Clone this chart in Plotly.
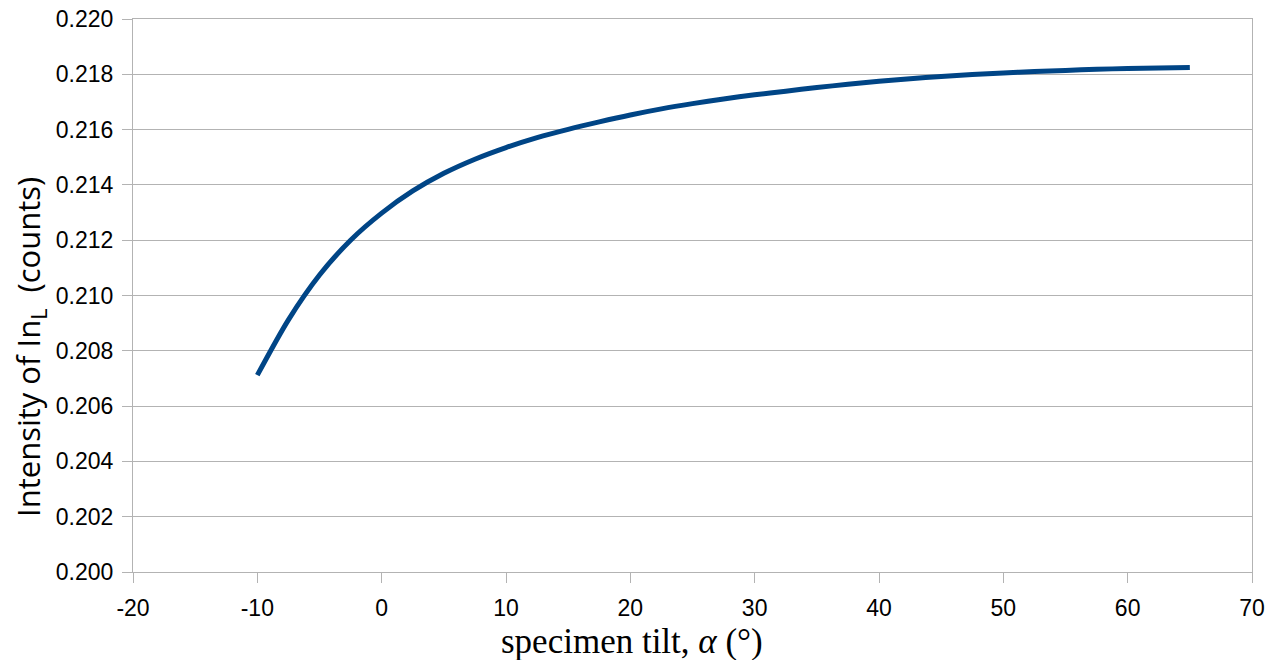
import plotly.graph_objects as go

tilt = [-10, -7.5, -5, -2.5, 0, 2.5, 5, 7.5, 10, 12.5, 15, 17.5, 20, 22.5, 25, 27.5,
        30, 32.5, 35, 37.5, 40, 42.5, 45, 47.5, 50, 52.5, 55, 57.5, 60, 62.5, 65]
intensity = [0.20712, 0.20912, 0.21074, 0.21200, 0.21298, 0.21378, 0.21442, 0.21493,
             0.21535, 0.21571, 0.21601, 0.21628, 0.21653, 0.21675, 0.21694, 0.21711,
             0.21726, 0.21739, 0.21752, 0.21764, 0.21775, 0.21784, 0.21792, 0.21799,
             0.21805, 0.21810, 0.21814, 0.21818, 0.21821, 0.21823, 0.21825]

x_ticks = [-20, -10, 0, 10, 20, 30, 40, 50, 60, 70]
y_ticks = [0.200, 0.202, 0.204, 0.206, 0.208, 0.210, 0.212, 0.214, 0.216, 0.218, 0.220]

x_title = "specimen tilt, <i>α</i> (°)"
y_title = "Intensity of In<sub>L</sub>  (counts)"

fig = go.Figure()
fig.add_trace(go.Scatter(
    x=tilt, y=intensity, mode="lines",
    line=dict(color="#004586", width=5, shape="spline", smoothing=0.8),
    showlegend=False,
))

grid = "#b3b3b3"
tickfont = dict(family="Liberation Sans, Arial", size=23, color="black")
fig.update_layout(
    width=1270, height=652,
    margin=dict(l=125, r=26, t=11, b=88, autoexpand=False),
    paper_bgcolor="white", plot_bgcolor="white",
    font=dict(family="Liberation Sans, Arial", size=23, color="black"),
    xaxis=dict(
        range=[-20, 70], tickvals=x_ticks, ticktext=[str(v) for v in x_ticks],
        showgrid=False, zeroline=False,
        showline=True, linecolor=grid, linewidth=1, mirror=True,
        ticks="outside", ticklen=10, tickcolor=grid,
        tickfont=tickfont, ticklabelstandoff=5, ticklabeloverflow="allow",
        automargin=False,
    ),
    yaxis=dict(
        range=[0.200, 0.220], tickvals=y_ticks, ticktext=[f"{v:.3f}" for v in y_ticks],
        showgrid=True, gridcolor=grid, gridwidth=1, zeroline=False,
        showline=True, linecolor=grid, linewidth=1, mirror=True,
        ticks="outside", ticklen=10, tickcolor=grid,
        tickfont=tickfont, ticklabelstandoff=4, ticklabeloverflow="allow",
        automargin=False,
    ),
    annotations=[
        dict(text=x_title, xref="paper", yref="paper", x=(632 - 133) / 1119, y=(572 - 641) / 553,
             xanchor="center", yanchor="middle", showarrow=False,
             font=dict(family="Liberation Serif, Times New Roman", size=35, color="black")),
        dict(text=y_title, xref="paper", yref="paper", x=(30 - 133) / 1119, y=(572 - 347) / 553,
             xanchor="center", yanchor="middle", showarrow=False, textangle=-90,
             font=dict(family="Open Sans, Noto Sans", size=31, color="black")),
    ],
)

fig.write_html("out.html")
